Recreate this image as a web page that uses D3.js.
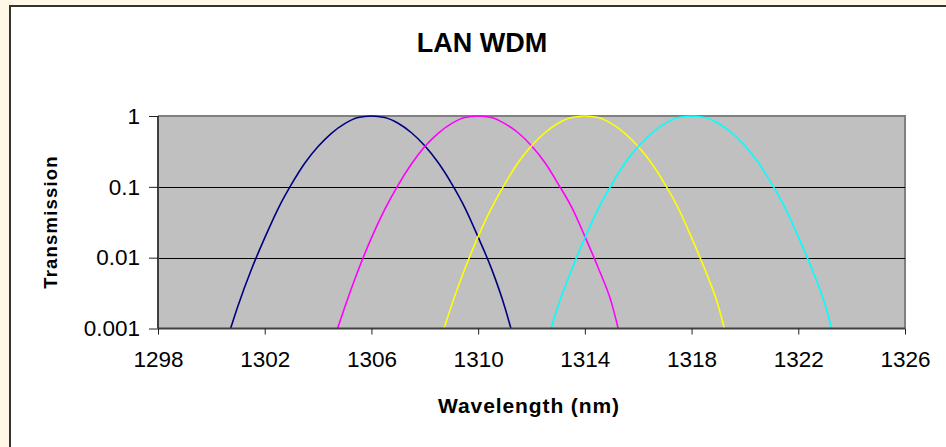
<!DOCTYPE html>
<html><head><meta charset="utf-8">
<script src="https://cdn.jsdelivr.net/npm/d3@7"></script>
<style>
html,body{margin:0;padding:0;background:#FFF8E6;}
svg{display:block;}
</style></head>
<body>
<svg id="chart" width="946" height="447"></svg>
<script>
const title = "LAN WDM";
const xLabel = "Wavelength (nm)";
const yLabel = "Transmission";
const xTicks = [1298, 1302, 1306, 1310, 1314, 1318, 1322, 1326];
const yTicks = [0.001, 0.01, 0.1, 1];
const yTickLabels = ["0.001", "0.01", "0.1", "1"];

const blueWl = [1300.72,1301.0,1301.5,1302.0,1302.5,1303.0,1303.5,1304.0,1304.5,1305.0,1305.5,1306.0,1306.5,1307.0,1307.5,1308.0,1308.5,1309.0,1309.5,1310.0,1310.5,1311.0,1311.23];
const blueT  = [0.001,0.0021,0.0068,0.019,0.049,0.108,0.215,0.37,0.57,0.78,0.95,1.0,0.95,0.79,0.58,0.38,0.22,0.112,0.051,0.0195,0.0070,0.0020,0.001];

const magentaWl = [1304.73,1305.0,1305.5,1306.0,1306.5,1307.0,1307.5,1308.0,1308.5,1309.0,1309.5,1310.0,1310.5,1311.0,1311.5,1312.0,1312.5,1313.0,1313.5,1314.0,1314.5,1315.0,1315.25];
const magentaT  = [0.001,0.0020,0.0066,0.019,0.048,0.106,0.21,0.37,0.57,0.78,0.95,1.0,0.95,0.78,0.58,0.38,0.22,0.11,0.052,0.020,0.0072,0.0023,0.001];

const yellowWl = [1308.72,1309.0,1309.5,1310.0,1310.5,1311.0,1311.5,1312.0,1312.5,1313.0,1313.5,1314.0,1314.5,1315.0,1315.5,1316.0,1316.5,1317.0,1317.5,1318.0,1318.5,1319.0,1319.23];
const yellowT  = [0.001,0.0021,0.0069,0.020,0.050,0.110,0.22,0.38,0.58,0.79,0.95,1.0,0.95,0.78,0.57,0.37,0.215,0.109,0.050,0.0192,0.0068,0.0021,0.001];

const cyanWl = [1312.73,1313.0,1313.5,1314.0,1314.5,1315.0,1315.5,1316.0,1316.5,1317.0,1317.5,1318.0,1318.5,1319.0,1319.5,1320.0,1320.5,1321.0,1321.5,1322.0,1322.5,1323.0,1323.25];
const cyanT  = [0.001,0.0021,0.0067,0.019,0.049,0.107,0.215,0.37,0.57,0.78,0.95,1.0,0.95,0.79,0.58,0.38,0.22,0.111,0.051,0.0198,0.0071,0.0022,0.001];

const series = [
  {wl: blueWl, t: blueT, color: "#000080"},
  {wl: magentaWl, t: magentaT, color: "#FF00FF"},
  {wl: yellowWl, t: yellowT, color: "#FFFF00"},
  {wl: cyanWl, t: cyanT, color: "#00FFFF"}
];

const svg = d3.select("#chart");
const font = "'Liberation Sans', Arial, sans-serif";

// chart area (white, extends off the right/bottom)
svg.append("rect").attr("x", 10).attr("y", 6).attr("width", 960).attr("height", 460)
  .attr("fill", "#FFFFFF").attr("stroke", "#333333").attr("stroke-width", 2);

const L = 158, R = 905, T = 116, B = 328.5;
const x = d3.scaleLinear().domain([1298, 1326]).range([L, R]);
const y = d3.scaleLog().domain([0.001, 1]).range([B, T]);

// plot area
svg.append("rect").attr("x", L).attr("y", T).attr("width", R - L).attr("height", B - T)
  .attr("fill", "#C0C0C0");
svg.append("path").attr("d", `M${L},${T}H${R}V${B}`).attr("fill", "none")
  .attr("stroke", "#808080").attr("stroke-width", 2);

// gridlines
svg.append("g").selectAll("line").data(yTicks.filter(v => v > 0.001 && v < 1)).join("line")
  .attr("x1", L).attr("x2", R).attr("y1", d => Math.round(y(d)) + 0.5).attr("y2", d => Math.round(y(d)) + 0.5)
  .attr("stroke", "#000").attr("stroke-width", 1);

// curves
svg.append("clipPath").attr("id", "clip").append("rect")
  .attr("x", L).attr("y", T - 2).attr("width", R - L).attr("height", B - T + 2);
const line = d3.line().x(d => x(d[0])).y(d => y(d[1])).curve(d3.curveMonotoneX);
svg.append("g").attr("clip-path", "url(#clip)").selectAll("path").data(series).join("path")
  .attr("d", s => line(s.wl.map((w, i) => [w, s.t[i]])))
  .attr("fill", "none").attr("stroke", s => s.color).attr("stroke-width", 1.6);

// axes
const yAxis = d3.axisLeft(y).tickValues(yTicks).tickFormat((d, i) => yTickLabels[i]).tickSize(9).tickPadding(9);
const gy = svg.append("g").attr("transform", `translate(${L},0)`).call(yAxis);
const xAxis = d3.axisBottom(x).tickValues(xTicks).tickFormat(d3.format("d")).tickSize(6).tickPadding(17);
const gx = svg.append("g").attr("transform", `translate(0,${B})`).call(xAxis);
[gx, gy].forEach(g => {
  g.select(".domain").attr("stroke", "#404040").attr("stroke-width", 2);
  g.selectAll(".tick line").attr("stroke", "#202020").attr("stroke-width", 1);
  g.selectAll("text").attr("font-family", font).attr("font-size", 22.5).attr("fill", "#000");
});
gy.select(".domain").attr("d", `M-0,${T}V${B}`);
gx.select(".domain").attr("d", `M${L},0H${R}`);

// titles
svg.append("text").attr("x", 482).attr("y", 52).attr("text-anchor", "middle")
  .attr("font-family", font).attr("font-weight", "bold").attr("font-size", 27).text(title);
svg.append("text").attr("x", 529).attr("y", 413).attr("text-anchor", "middle")
  .attr("font-family", font).attr("font-weight", "bold").attr("font-size", 21)
  .attr("letter-spacing", 0.9).text(xLabel);
svg.append("text").attr("transform", "translate(57,222) rotate(-90)").attr("text-anchor", "middle")
  .attr("font-family", font).attr("font-weight", "bold").attr("font-size", 18.5)
  .attr("letter-spacing", 1.2).text(yLabel);
</script>
</body></html>
